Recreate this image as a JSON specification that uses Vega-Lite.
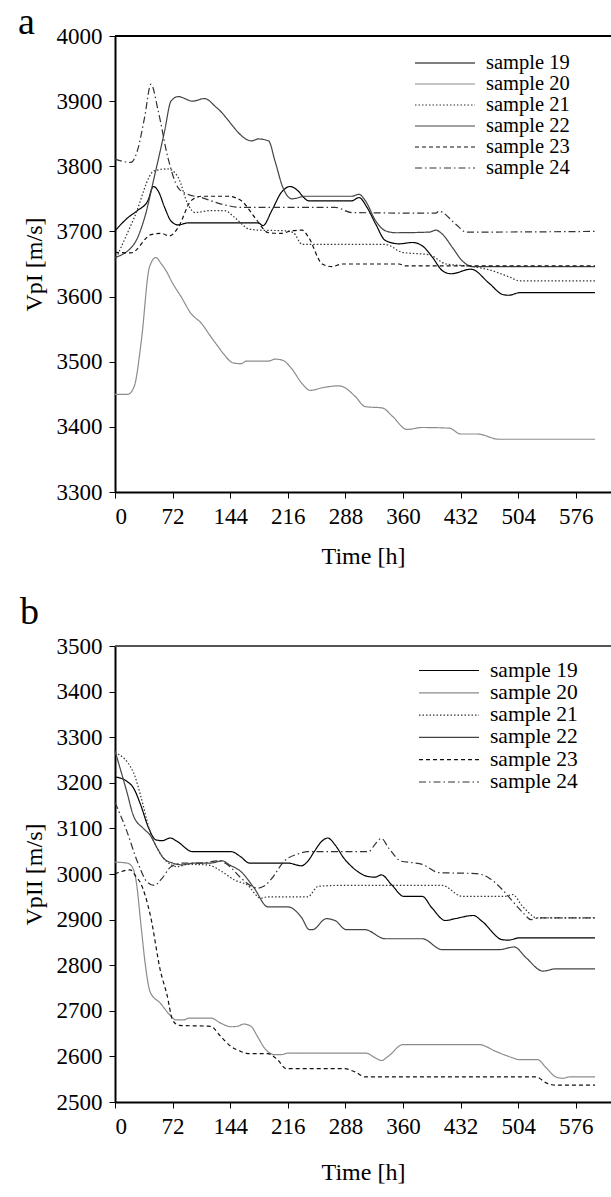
{
"$schema": "https://vega.github.io/schema/vega-lite/v6.json",
"padding": {"left": 18, "top": 4, "right": 0, "bottom": 0},
"background": "white",
"spacing": 26,
"config": {
 "font": "Liberation Serif",
 "view": {"stroke": null},
 "style": {"guide-label": {"font": "Liberation Serif", "fontSize": 23, "fill": "black"}, "guide-title": {"font": "Liberation Serif", "fontSize": 24, "fontWeight": "normal", "fill": "black"}},
 "axis": {"labelFont": "Liberation Serif", "labelFontSize": 23, "labelColor": "black", "titleFont": "Liberation Serif", "titleFontSize": 24, "titleFontWeight": "normal", "titleColor": "black", "domainColor": "black", "domainWidth": 2, "tickColor": "black", "tickSize": 6, "tickWidth": 1, "grid": false, "labelPadding": 7, "format": "d"},
 "legend": {"labelFont": "Liberation Serif", "labelFontSize": 21, "labelColor": "black"},
 "title": {"font": "Liberation Serif", "fontSize": 38, "fontWeight": "normal", "color": "black"}
},
"datasets": {
 "a": [
  {"s":"sample 19","t":0,"v":3701},{"s":"sample 19","t":16,"v":3721},{"s":"sample 19","t":28,"v":3732},{"s":"sample 19","t":41,"v":3747},{"s":"sample 19","t":48,"v":3769},{"s":"sample 19","t":54,"v":3762},{"s":"sample 19","t":62,"v":3737},{"s":"sample 19","t":70,"v":3716},{"s":"sample 19","t":79,"v":3710},{"s":"sample 19","t":91,"v":3713},{"s":"sample 19","t":179,"v":3713},{"s":"sample 19","t":185,"v":3709},{"s":"sample 19","t":196,"v":3732},{"s":"sample 19","t":208,"v":3760},{"s":"sample 19","t":219,"v":3769},{"s":"sample 19","t":229,"v":3762},{"s":"sample 19","t":236,"v":3752},{"s":"sample 19","t":242,"v":3747},{"s":"sample 19","t":296,"v":3747},{"s":"sample 19","t":305,"v":3752},{"s":"sample 19","t":315,"v":3737},{"s":"sample 19","t":326,"v":3711},{"s":"sample 19","t":338,"v":3686},{"s":"sample 19","t":355,"v":3681},{"s":"sample 19","t":372,"v":3683},{"s":"sample 19","t":384,"v":3678},{"s":"sample 19","t":397,"v":3660},{"s":"sample 19","t":409,"v":3640},{"s":"sample 19","t":420,"v":3635},{"s":"sample 19","t":445,"v":3642},{"s":"sample 19","t":468,"v":3620},{"s":"sample 19","t":485,"v":3603},{"s":"sample 19","t":492,"v":3602},{"s":"sample 19","t":506,"v":3606},{"s":"sample 19","t":600,"v":3606},
  {"s":"sample 20","t":0,"v":3450},{"s":"sample 20","t":16,"v":3450},{"s":"sample 20","t":24,"v":3462},{"s":"sample 20","t":33,"v":3533},{"s":"sample 20","t":43,"v":3645},{"s":"sample 20","t":51,"v":3660},{"s":"sample 20","t":58,"v":3650},{"s":"sample 20","t":66,"v":3635},{"s":"sample 20","t":70,"v":3625},{"s":"sample 20","t":83,"v":3599},{"s":"sample 20","t":95,"v":3574},{"s":"sample 20","t":108,"v":3559},{"s":"sample 20","t":120,"v":3538},{"s":"sample 20","t":129,"v":3523},{"s":"sample 20","t":137,"v":3510},{"s":"sample 20","t":148,"v":3498},{"s":"sample 20","t":158,"v":3497},{"s":"sample 20","t":164,"v":3501},{"s":"sample 20","t":192,"v":3501},{"s":"sample 20","t":200,"v":3504},{"s":"sample 20","t":210,"v":3502},{"s":"sample 20","t":221,"v":3489},{"s":"sample 20","t":234,"v":3466},{"s":"sample 20","t":244,"v":3456},{"s":"sample 20","t":259,"v":3460},{"s":"sample 20","t":280,"v":3463},{"s":"sample 20","t":286,"v":3461},{"s":"sample 20","t":300,"v":3447},{"s":"sample 20","t":313,"v":3431},{"s":"sample 20","t":334,"v":3429},{"s":"sample 20","t":347,"v":3416},{"s":"sample 20","t":365,"v":3396},{"s":"sample 20","t":384,"v":3399},{"s":"sample 20","t":418,"v":3398},{"s":"sample 20","t":432,"v":3389},{"s":"sample 20","t":453,"v":3389},{"s":"sample 20","t":480,"v":3381},{"s":"sample 20","t":600,"v":3381},
  {"s":"sample 21","t":0,"v":3655},{"s":"sample 21","t":24,"v":3721},{"s":"sample 21","t":49,"v":3793},{"s":"sample 21","t":66,"v":3796},{"s":"sample 21","t":79,"v":3783},{"s":"sample 21","t":91,"v":3742},{"s":"sample 21","t":100,"v":3729},{"s":"sample 21","t":120,"v":3732},{"s":"sample 21","t":137,"v":3732},{"s":"sample 21","t":150,"v":3721},{"s":"sample 21","t":167,"v":3704},{"s":"sample 21","t":179,"v":3702},{"s":"sample 21","t":213,"v":3701},{"s":"sample 21","t":223,"v":3698},{"s":"sample 21","t":234,"v":3680},{"s":"sample 21","t":338,"v":3680},{"s":"sample 21","t":359,"v":3668},{"s":"sample 21","t":393,"v":3664},{"s":"sample 21","t":414,"v":3650},{"s":"sample 21","t":440,"v":3647},{"s":"sample 21","t":468,"v":3641},{"s":"sample 21","t":493,"v":3630},{"s":"sample 21","t":506,"v":3624},{"s":"sample 21","t":600,"v":3624},
  {"s":"sample 22","t":0,"v":3660},{"s":"sample 22","t":24,"v":3681},{"s":"sample 22","t":37,"v":3721},{"s":"sample 22","t":49,"v":3783},{"s":"sample 22","t":62,"v":3854},{"s":"sample 22","t":70,"v":3900},{"s":"sample 22","t":79,"v":3907},{"s":"sample 22","t":97,"v":3900},{"s":"sample 22","t":112,"v":3904},{"s":"sample 22","t":127,"v":3890},{"s":"sample 22","t":171,"v":3839},{"s":"sample 22","t":179,"v":3842},{"s":"sample 22","t":192,"v":3839},{"s":"sample 22","t":200,"v":3808},{"s":"sample 22","t":210,"v":3767},{"s":"sample 22","t":221,"v":3750},{"s":"sample 22","t":238,"v":3754},{"s":"sample 22","t":296,"v":3754},{"s":"sample 22","t":305,"v":3757},{"s":"sample 22","t":313,"v":3747},{"s":"sample 22","t":326,"v":3716},{"s":"sample 22","t":338,"v":3701},{"s":"sample 22","t":351,"v":3698},{"s":"sample 22","t":393,"v":3699},{"s":"sample 22","t":401,"v":3702},{"s":"sample 22","t":409,"v":3696},{"s":"sample 22","t":422,"v":3675},{"s":"sample 22","t":434,"v":3655},{"s":"sample 22","t":447,"v":3646},{"s":"sample 22","t":600,"v":3646},
  {"s":"sample 23","t":0,"v":3668},{"s":"sample 23","t":20,"v":3667},{"s":"sample 23","t":45,"v":3695},{"s":"sample 23","t":58,"v":3697},{"s":"sample 23","t":68,"v":3693},{"s":"sample 23","t":79,"v":3706},{"s":"sample 23","t":95,"v":3747},{"s":"sample 23","t":108,"v":3754},{"s":"sample 23","t":141,"v":3754},{"s":"sample 23","t":158,"v":3747},{"s":"sample 23","t":175,"v":3721},{"s":"sample 23","t":192,"v":3698},{"s":"sample 23","t":208,"v":3697},{"s":"sample 23","t":221,"v":3701},{"s":"sample 23","t":234,"v":3702},{"s":"sample 23","t":242,"v":3691},{"s":"sample 23","t":259,"v":3650},{"s":"sample 23","t":271,"v":3646},{"s":"sample 23","t":284,"v":3650},{"s":"sample 23","t":355,"v":3650},{"s":"sample 23","t":363,"v":3647},{"s":"sample 23","t":600,"v":3647},
  {"s":"sample 24","t":0,"v":3811},{"s":"sample 24","t":20,"v":3806},{"s":"sample 24","t":28,"v":3824},{"s":"sample 24","t":37,"v":3875},{"s":"sample 24","t":45,"v":3926},{"s":"sample 24","t":54,"v":3885},{"s":"sample 24","t":66,"v":3814},{"s":"sample 24","t":79,"v":3767},{"s":"sample 24","t":91,"v":3757},{"s":"sample 24","t":108,"v":3752},{"s":"sample 24","t":133,"v":3742},{"s":"sample 24","t":158,"v":3737},{"s":"sample 24","t":275,"v":3737},{"s":"sample 24","t":296,"v":3729},{"s":"sample 24","t":401,"v":3728},{"s":"sample 24","t":405,"v":3731},{"s":"sample 24","t":426,"v":3711},{"s":"sample 24","t":439,"v":3699},{"s":"sample 24","t":600,"v":3700}
 ],
 "b": [
  {"s":"sample 19","t":0,"v":3213},{"s":"sample 19","t":15,"v":3203},{"s":"sample 19","t":23,"v":3189},{"s":"sample 19","t":32,"v":3152},{"s":"sample 19","t":42,"v":3101},{"s":"sample 19","t":51,"v":3075},{"s":"sample 19","t":59,"v":3073},{"s":"sample 19","t":69,"v":3079},{"s":"sample 19","t":78,"v":3071},{"s":"sample 19","t":97,"v":3049},{"s":"sample 19","t":145,"v":3049},{"s":"sample 19","t":157,"v":3038},{"s":"sample 19","t":168,"v":3024},{"s":"sample 19","t":216,"v":3024},{"s":"sample 19","t":233,"v":3018},{"s":"sample 19","t":241,"v":3028},{"s":"sample 19","t":249,"v":3049},{"s":"sample 19","t":258,"v":3071},{"s":"sample 19","t":266,"v":3079},{"s":"sample 19","t":275,"v":3064},{"s":"sample 19","t":286,"v":3035},{"s":"sample 19","t":300,"v":3010},{"s":"sample 19","t":315,"v":2995},{"s":"sample 19","t":325,"v":2993},{"s":"sample 19","t":333,"v":2998},{"s":"sample 19","t":346,"v":2976},{"s":"sample 19","t":361,"v":2951},{"s":"sample 19","t":384,"v":2951},{"s":"sample 19","t":396,"v":2926},{"s":"sample 19","t":413,"v":2898},{"s":"sample 19","t":425,"v":2902},{"s":"sample 19","t":448,"v":2909},{"s":"sample 19","t":459,"v":2896},{"s":"sample 19","t":484,"v":2856},{"s":"sample 19","t":492,"v":2855},{"s":"sample 19","t":505,"v":2860},{"s":"sample 19","t":600,"v":2860},
  {"s":"sample 20","t":0,"v":3026},{"s":"sample 20","t":15,"v":3024},{"s":"sample 20","t":21,"v":3017},{"s":"sample 20","t":27,"v":2978},{"s":"sample 20","t":32,"v":2896},{"s":"sample 20","t":38,"v":2800},{"s":"sample 20","t":44,"v":2741},{"s":"sample 20","t":57,"v":2716},{"s":"sample 20","t":69,"v":2690},{"s":"sample 20","t":76,"v":2680},{"s":"sample 20","t":86,"v":2680},{"s":"sample 20","t":92,"v":2684},{"s":"sample 20","t":120,"v":2684},{"s":"sample 20","t":132,"v":2673},{"s":"sample 20","t":145,"v":2665},{"s":"sample 20","t":153,"v":2666},{"s":"sample 20","t":161,"v":2671},{"s":"sample 20","t":170,"v":2666},{"s":"sample 20","t":178,"v":2644},{"s":"sample 20","t":187,"v":2618},{"s":"sample 20","t":199,"v":2604},{"s":"sample 20","t":208,"v":2604},{"s":"sample 20","t":216,"v":2607},{"s":"sample 20","t":314,"v":2607},{"s":"sample 20","t":325,"v":2597},{"s":"sample 20","t":333,"v":2591},{"s":"sample 20","t":342,"v":2601},{"s":"sample 20","t":360,"v":2626},{"s":"sample 20","t":455,"v":2626},{"s":"sample 20","t":476,"v":2611},{"s":"sample 20","t":497,"v":2597},{"s":"sample 20","t":505,"v":2593},{"s":"sample 20","t":528,"v":2593},{"s":"sample 20","t":539,"v":2575},{"s":"sample 20","t":551,"v":2555},{"s":"sample 20","t":560,"v":2552},{"s":"sample 20","t":568,"v":2555},{"s":"sample 20","t":600,"v":2555},
  {"s":"sample 21","t":0,"v":3267},{"s":"sample 21","t":23,"v":3223},{"s":"sample 21","t":32,"v":3172},{"s":"sample 21","t":44,"v":3092},{"s":"sample 21","t":55,"v":3049},{"s":"sample 21","t":65,"v":3027},{"s":"sample 21","t":78,"v":3016},{"s":"sample 21","t":90,"v":3021},{"s":"sample 21","t":115,"v":3020},{"s":"sample 21","t":134,"v":3005},{"s":"sample 21","t":149,"v":2987},{"s":"sample 21","t":166,"v":2975},{"s":"sample 21","t":182,"v":2947},{"s":"sample 21","t":191,"v":2950},{"s":"sample 21","t":241,"v":2950},{"s":"sample 21","t":254,"v":2973},{"s":"sample 21","t":283,"v":2975},{"s":"sample 21","t":409,"v":2975},{"s":"sample 21","t":434,"v":2951},{"s":"sample 21","t":488,"v":2951},{"s":"sample 21","t":497,"v":2955},{"s":"sample 21","t":509,"v":2930},{"s":"sample 21","t":522,"v":2908},{"s":"sample 21","t":526,"v":2904},{"s":"sample 21","t":600,"v":2904},
  {"s":"sample 22","t":0,"v":3270},{"s":"sample 22","t":15,"v":3179},{"s":"sample 22","t":23,"v":3128},{"s":"sample 22","t":36,"v":3099},{"s":"sample 22","t":44,"v":3085},{"s":"sample 22","t":53,"v":3056},{"s":"sample 22","t":61,"v":3034},{"s":"sample 22","t":72,"v":3024},{"s":"sample 22","t":84,"v":3020},{"s":"sample 22","t":99,"v":3024},{"s":"sample 22","t":120,"v":3024},{"s":"sample 22","t":134,"v":3029},{"s":"sample 22","t":143,"v":3020},{"s":"sample 22","t":157,"v":3006},{"s":"sample 22","t":174,"v":2969},{"s":"sample 22","t":191,"v":2928},{"s":"sample 22","t":216,"v":2928},{"s":"sample 22","t":233,"v":2905},{"s":"sample 22","t":243,"v":2878},{"s":"sample 22","t":247,"v":2878},{"s":"sample 22","t":264,"v":2902},{"s":"sample 22","t":275,"v":2898},{"s":"sample 22","t":289,"v":2878},{"s":"sample 22","t":312,"v":2878},{"s":"sample 22","t":338,"v":2858},{"s":"sample 22","t":384,"v":2858},{"s":"sample 22","t":409,"v":2834},{"s":"sample 22","t":480,"v":2834},{"s":"sample 22","t":499,"v":2840},{"s":"sample 22","t":514,"v":2816},{"s":"sample 22","t":535,"v":2787},{"s":"sample 22","t":551,"v":2792},{"s":"sample 22","t":600,"v":2792},
  {"s":"sample 23","t":0,"v":3000},{"s":"sample 23","t":19,"v":3009},{"s":"sample 23","t":26,"v":2995},{"s":"sample 23","t":32,"v":2980},{"s":"sample 23","t":44,"v":2911},{"s":"sample 23","t":57,"v":2786},{"s":"sample 23","t":65,"v":2735},{"s":"sample 23","t":72,"v":2680},{"s":"sample 23","t":80,"v":2668},{"s":"sample 23","t":120,"v":2666},{"s":"sample 23","t":130,"v":2648},{"s":"sample 23","t":145,"v":2622},{"s":"sample 23","t":157,"v":2611},{"s":"sample 23","t":168,"v":2606},{"s":"sample 23","t":191,"v":2606},{"s":"sample 23","t":203,"v":2593},{"s":"sample 23","t":214,"v":2573},{"s":"sample 23","t":222,"v":2573},{"s":"sample 23","t":287,"v":2573},{"s":"sample 23","t":300,"v":2566},{"s":"sample 23","t":313,"v":2555},{"s":"sample 23","t":526,"v":2555},{"s":"sample 23","t":539,"v":2542},{"s":"sample 23","t":551,"v":2537},{"s":"sample 23","t":600,"v":2537},
  {"s":"sample 24","t":0,"v":3157},{"s":"sample 24","t":15,"v":3093},{"s":"sample 24","t":28,"v":3027},{"s":"sample 24","t":40,"v":2983},{"s":"sample 24","t":49,"v":2975},{"s":"sample 24","t":59,"v":2991},{"s":"sample 24","t":70,"v":3016},{"s":"sample 24","t":86,"v":3024},{"s":"sample 24","t":107,"v":3024},{"s":"sample 24","t":130,"v":3029},{"s":"sample 24","t":141,"v":3020},{"s":"sample 24","t":157,"v":2992},{"s":"sample 24","t":170,"v":2974},{"s":"sample 24","t":178,"v":2969},{"s":"sample 24","t":187,"v":2974},{"s":"sample 24","t":195,"v":2988},{"s":"sample 24","t":212,"v":3029},{"s":"sample 24","t":229,"v":3044},{"s":"sample 24","t":241,"v":3049},{"s":"sample 24","t":317,"v":3049},{"s":"sample 24","t":325,"v":3065},{"s":"sample 24","t":333,"v":3078},{"s":"sample 24","t":342,"v":3057},{"s":"sample 24","t":358,"v":3028},{"s":"sample 24","t":371,"v":3025},{"s":"sample 24","t":384,"v":3021},{"s":"sample 24","t":405,"v":3003},{"s":"sample 24","t":451,"v":3001},{"s":"sample 24","t":467,"v":2992},{"s":"sample 24","t":484,"v":2966},{"s":"sample 24","t":497,"v":2940},{"s":"sample 24","t":510,"v":2915},{"s":"sample 24","t":520,"v":2900},{"s":"sample 24","t":530,"v":2904},{"s":"sample 24","t":600,"v":2904}
 ]
},
"vconcat": [
 {
  "title": {"text": "a", "anchor": "start", "frame": "bounds", "dx": -4, "offset": -17, "font": "Liberation Serif", "fontSize": 38},
  "width": 496, "height": 456,
  "data": {"name": "a"},
  "layer": [
   {
    "mark": {"type": "line", "interpolate": "monotone", "strokeWidth": 1.2},
    "encoding": {
     "x": {"field": "t", "type": "quantitative", "scale": {"domain": [0, 620], "nice": false}, "axis": {"values": [0,72,144,216,288,360,432,504,576], "format": "d", "labelFont": "Liberation Serif", "labelFontSize": 23, "title": "Time [h]", "titleFont": "Liberation Serif", "titleFontSize": 24, "titlePadding": 16}},
     "y": {"field": "v", "type": "quantitative", "scale": {"domain": [3300, 4000], "nice": false, "zero": false}, "axis": {"values": [3300,3400,3500,3600,3700,3800,3900,4000], "format": "d", "labelFont": "Liberation Serif", "labelFontSize": 23, "labelPadding": 7, "title": "VpI [m/s]", "titleFont": "Liberation Serif", "titleFontSize": 24, "titlePadding": 10}},
     "color": {"field": "s", "type": "nominal", "scale": {"domain": ["sample 19","sample 20","sample 21","sample 22","sample 23","sample 24"], "range": ["#000000","#8c8c8c","#333333","#444444","#111111","#333333"]}, "legend": {"title": null, "orient": "none", "legendX": 299, "legendY": 18, "symbolType": "stroke", "symbolSize": 3600, "symbolStrokeWidth": 1.2, "labelOffset": 10, "rowPadding": 0, "clipHeight": 18, "labelFont": "Liberation Serif", "labelFontSize": 20.5}},
     "strokeDash": {"field": "s", "type": "nominal", "scale": {"domain": ["sample 19","sample 20","sample 21","sample 22","sample 23","sample 24"], "range": [[1,0],[1,0],[1.5,2],[1,0],[4,3],[7,3,1.5,3]]}, "legend": {"title": null, "orient": "none", "legendX": 299, "legendY": 18, "symbolType": "stroke", "symbolSize": 3600, "symbolStrokeWidth": 1.2, "labelOffset": 10, "rowPadding": 0, "clipHeight": 18, "labelFont": "Liberation Serif", "labelFontSize": 20.5}}
    }
   },
   {"mark": {"type": "rule", "color": "black", "strokeWidth": 2}, "encoding": {"y": {"datum": 4000}}}
  ]
 },
 {
  "title": {"text": "b", "anchor": "start", "frame": "bounds", "dx": -2, "offset": 3, "font": "Liberation Serif", "fontSize": 38},
  "width": 496, "height": 456,
  "data": {"name": "b"},
  "layer": [
   {
    "mark": {"type": "line", "interpolate": "monotone", "strokeWidth": 1.2},
    "encoding": {
     "x": {"field": "t", "type": "quantitative", "scale": {"domain": [0, 620], "nice": false}, "axis": {"values": [0,72,144,216,288,360,432,504,576], "format": "d", "labelFont": "Liberation Serif", "labelFontSize": 23, "title": "Time [h]", "titleFont": "Liberation Serif", "titleFontSize": 24, "titlePadding": 22}},
     "y": {"field": "v", "type": "quantitative", "scale": {"domain": [2500, 3500], "nice": false, "zero": false}, "axis": {"values": [2500,2600,2700,2800,2900,3000,3100,3200,3300,3400,3500], "format": "d", "labelFont": "Liberation Serif", "labelFontSize": 23, "labelPadding": 7, "title": "VpII [m/s]", "titleFont": "Liberation Serif", "titleFontSize": 24, "titlePadding": 10}},
     "color": {"field": "s", "type": "nominal", "scale": {"domain": ["sample 19","sample 20","sample 21","sample 22","sample 23","sample 24"], "range": ["#000000","#8c8c8c","#333333","#444444","#111111","#333333"]}, "legend": {"title": null, "orient": "none", "legendX": 303, "legendY": 14, "symbolType": "stroke", "symbolSize": 3600, "symbolStrokeWidth": 1.2, "labelOffset": 10, "rowPadding": 0.3, "clipHeight": 21, "labelFont": "Liberation Serif", "labelFontSize": 21.5}},
     "strokeDash": {"field": "s", "type": "nominal", "scale": {"domain": ["sample 19","sample 20","sample 21","sample 22","sample 23","sample 24"], "range": [[1,0],[1,0],[1.5,2],[1,0],[4,3],[7,3,1.5,3]]}, "legend": {"title": null, "orient": "none", "legendX": 303, "legendY": 14, "symbolType": "stroke", "symbolSize": 3600, "symbolStrokeWidth": 1.2, "labelOffset": 10, "rowPadding": 0.3, "clipHeight": 21, "labelFont": "Liberation Serif", "labelFontSize": 21.5}}
    }
   },
   {"mark": {"type": "rule", "color": "#555555", "strokeWidth": 2}, "encoding": {"y": {"datum": 3500}}}
  ]
 }
],
"resolve": {"scale": {"color": "independent", "strokeDash": "independent", "y": "independent"}}
}
